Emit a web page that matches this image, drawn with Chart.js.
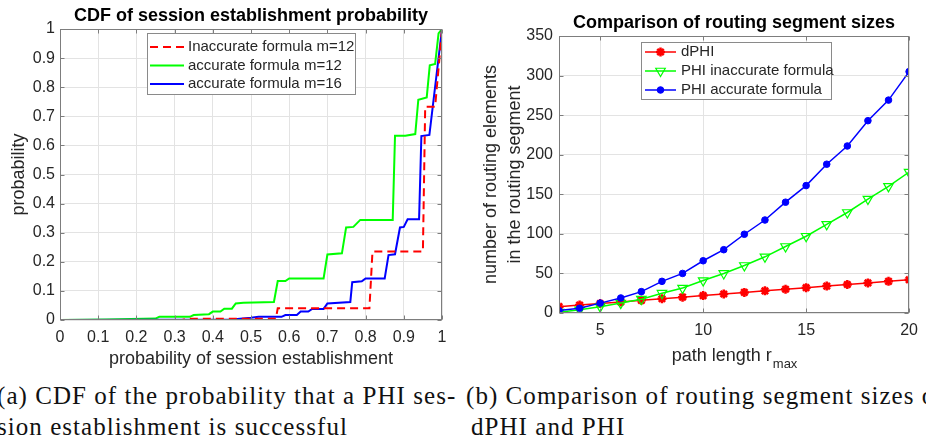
<!DOCTYPE html>
<html>
<head>
<meta charset="utf-8">
<script src="https://cdn.jsdelivr.net/npm/chart.js@4.4.1/dist/chart.umd.min.js"></script>
<style>
  body { margin: 0; background: #fff; width: 926px; height: 441px; overflow: hidden; position: relative; }
  .wrap { position: absolute; top: 0; width: 463px; height: 370px; }
  .cap { position: absolute; font-family: "Liberation Serif", serif; font-size: 25px; letter-spacing: 1.05px; line-height: 31px; color: #111; white-space: nowrap; }
</style>
</head>
<body>
<div class="wrap" style="left:0"><canvas id="cdfChart" width="463" height="370"></canvas></div>
<div class="wrap" style="left:463px"><canvas id="sizeChart" width="463" height="370"></canvas></div>
<div class="cap" style="left:-3px; top:380px">(a) CDF of the probability that a PHI ses-<br>sion establishment is successful</div>
<div class="cap" style="left:466px; top:380px">(b) Comparison of routing segment sizes of<br><span style="padding-left:5px">dPHI and PHI</span></div>

<script>
// (a) CDF curves, x = probability of session establishment, y = probability
const inaccX = [0, 0.32, 0.33, 0.565, 0.57, 0.81, 0.818, 0.95, 0.956, 0.982, 0.992, 1.0];
const inaccY = [0, 0, 0.004, 0.004, 0.040, 0.040, 0.235, 0.235, 0.733, 0.733, 0.88, 1.0];

const acc12X = [0, 0.12, 0.25, 0.26, 0.34, 0.35, 0.39, 0.40, 0.42, 0.43, 0.45, 0.46, 0.48, 0.56, 0.57, 0.59, 0.60, 0.69, 0.70, 0.738, 0.749, 0.768, 0.786, 0.871, 0.877, 0.904, 0.93, 0.938, 0.96, 0.968, 0.982, 0.991, 1.0];
const acc12Y = [0, 0.002, 0.005, 0.011, 0.011, 0.017, 0.020, 0.029, 0.029, 0.039, 0.039, 0.057, 0.059, 0.062, 0.134, 0.134, 0.143, 0.143, 0.225, 0.229, 0.318, 0.320, 0.344, 0.344, 0.633, 0.633, 0.639, 0.757, 0.765, 0.875, 0.88, 0.985, 1.0];

const acc16X = [0, 0.45, 0.50, 0.52, 0.58, 0.59, 0.62, 0.63, 0.65, 0.66, 0.69, 0.70, 0.76, 0.765, 0.79, 0.80, 0.85, 0.86, 0.877, 0.89, 0.90, 0.91, 0.94, 0.946, 0.967, 1.0];
const acc16Y = [0, 0.002, 0.008, 0.011, 0.011, 0.017, 0.017, 0.029, 0.029, 0.038, 0.038, 0.057, 0.062, 0.130, 0.133, 0.143, 0.143, 0.223, 0.226, 0.318, 0.320, 0.346, 0.346, 0.632, 0.636, 1.0];

const cdfTicks = [0, 0.1, 0.2, 0.3, 0.4, 0.5, 0.6, 0.7, 0.8, 0.9, 1];

// (b) routing segment sizes
const pathLength = [3, 4, 5, 6, 7, 8, 9, 10, 11, 12, 13, 14, 15, 16, 17, 18, 19, 20];
const dphi = [8, 10, 12, 14, 16, 18, 20, 22, 24, 26, 28, 30, 32, 34, 36, 38, 40, 42];
const phiInaccurate = [1, 4, 8, 12.5, 17.5, 25, 31.5, 41, 50, 60, 71, 84, 97, 112, 127, 144, 160, 178];
const phiAccurate = [3, 6, 12.5, 19, 27, 40, 50, 66, 80, 99.5, 117.5, 140, 161, 188, 211, 243, 269, 305];
const sizeXTicks = [5, 10, 15, 20];
const sizeYTicks = [0, 50, 100, 150, 200, 250, 300, 350];

const pts = (xs, ys) => xs.map((x, i) => ({ x: x, y: ys[i] }));
const shortNum = v => String(Math.round(v * 10) / 10);

const FONT = '"Liberation Sans", Arial, sans-serif';
const TXT = '#262626';

// axes box, inward tick marks and a MATLAB style legend box
const matlabAxes = {
  id: 'matlabAxes',
  afterDraw(chart, args, opts) {
    const { ctx, chartArea: a, scales } = chart;
    const l = Math.round(a.left) + 0.5, r = Math.round(a.right) - 0.5;
    const t = Math.round(a.top) + 0.5, b = Math.round(a.bottom) - 0.5;
    ctx.save();
    ctx.strokeStyle = '#7d7d7d';
    ctx.lineWidth = 1;
    ctx.setLineDash([]);
    ctx.strokeRect(l, t, r - l, b - t);
    ctx.beginPath();
    scales.x.ticks.forEach(tk => {
      const px = Math.round(scales.x.getPixelForValue(tk.value)) + 0.5;
      ctx.moveTo(px, b); ctx.lineTo(px, b - 4);
      ctx.moveTo(px, t); ctx.lineTo(px, t + 4);
    });
    scales.y.ticks.forEach(tk => {
      const py = Math.round(scales.y.getPixelForValue(tk.value)) + 0.5;
      ctx.moveTo(l, py); ctx.lineTo(l + 4, py);
      ctx.moveTo(r, py); ctx.lineTo(r - 4, py);
    });
    ctx.stroke();

    const lg = opts.legend;
    if (lg) {
      ctx.fillStyle = '#fff';
      ctx.fillRect(lg.x, lg.y, lg.w, lg.h);
      ctx.strokeStyle = '#8a8a8a';
      ctx.strokeRect(lg.x + 0.5, lg.y + 0.5, lg.w, lg.h);
      ctx.font = lg.size + 'px ' + FONT;
      ctx.textBaseline = 'middle';
      chart.data.datasets.forEach((ds, i) => {
        const y = lg.rows[i];
        ctx.strokeStyle = ds.borderColor;
        ctx.lineWidth = ds.borderWidth;
        ctx.setLineDash(ds.borderDash || []);
        ctx.beginPath();
        ctx.moveTo(lg.s1, y); ctx.lineTo(lg.s2, y);
        ctx.stroke();
        ctx.setLineDash([]);
        if (ds.pointRadius > 0 && Chart.helpers && Chart.helpers.drawPoint) {
          ctx.fillStyle = ds.pointBackgroundColor;
          ctx.strokeStyle = ds.borderColor;
          ctx.lineWidth = ds.pointBorderWidth;
          Chart.helpers.drawPoint(ctx, {
            pointStyle: ds.pointStyle, radius: ds.pointRadius,
            rotation: ds.pointRotation || 0, borderWidth: ds.pointBorderWidth
          }, (lg.s1 + lg.s2) / 2, y);
        }
        ctx.fillStyle = TXT;
        ctx.fillText(ds.label, lg.tx, y);
      });
    }

    if (opts.xLabel) {
      const xl = opts.xLabel;
      ctx.fillStyle = TXT;
      ctx.textBaseline = 'alphabetic';
      ctx.font = '18px ' + FONT;
      const w1 = ctx.measureText(xl.main).width;
      ctx.font = '13px ' + FONT;
      const w2 = ctx.measureText(xl.sub).width;
      const x0 = (a.left + a.right) / 2 - (w1 + w2) / 2;
      ctx.font = '18px ' + FONT;
      ctx.fillText(xl.main, x0, xl.y);
      ctx.font = '13px ' + FONT;
      ctx.fillText(xl.sub, x0 + w1 + 1, xl.y + 7);
    }
    ctx.restore();
  }
};

const gridColor = '#e3e3e3';
const tickFont = { family: FONT, size: 16 };
const labelFont = { family: FONT, size: 18 };

new Chart(document.getElementById('cdfChart'), {
  type: 'line',
  data: {
    datasets: [
      { label: 'Inaccurate formula m=12', data: pts(inaccX, inaccY), borderColor: '#ff0000', borderDash: [8, 5], borderWidth: 2, pointRadius: 0, order: 0 },
      { label: 'accurate formula m=12', data: pts(acc12X, acc12Y), borderColor: '#00ff00', borderWidth: 2, pointRadius: 0, order: 2 },
      { label: 'accurate formula m=16', data: pts(acc16X, acc16Y), borderColor: '#0000ff', borderWidth: 2, pointRadius: 0, order: 1 }
    ]
  },
  options: {
    responsive: false,
    animation: false,
    events: [],
    layout: { padding: { left: 0, right: 21, top: 0, bottom: 0 } },
    plugins: {
      legend: { display: false },
      tooltip: { enabled: false },
      title: {
        display: true, fullSize: false,
        text: 'CDF of session establishment probability',
        color: '#000', font: { family: FONT, size: 18, weight: 'bold' },
        padding: { top: 5, bottom: 2.4 }
      },
      matlabAxes: { legend: { x: 147, y: 33, w: 208, h: 61, rows: [47, 65.5, 84], s1: 150, s2: 184, tx: 188, size: 15 } }
    },
    scales: {
      x: {
        type: 'linear', min: 0, max: 1,
        afterBuildTicks: s => { s.ticks = cdfTicks.map(v => ({ value: v })); },
        afterFit: s => { s.height = 50; },
        grid: { color: gridColor, drawTicks: false },
        border: { display: false },
        ticks: { color: TXT, font: tickFont, padding: 8, maxRotation: 0, callback: shortNum },
        title: { display: true, text: 'probability of session establishment', color: TXT, font: labelFont, padding: { top: 0, bottom: 0 } }
      },
      y: {
        min: 0, max: 1,
        afterBuildTicks: s => { s.ticks = cdfTicks.map(v => ({ value: v })); },
        afterFit: s => { s.width = 60; },
        grid: { color: gridColor, drawTicks: false },
        border: { display: false },
        ticks: { color: TXT, font: tickFont, padding: 5, callback: shortNum },
        title: { display: true, text: 'probability', color: TXT, font: labelFont, padding: { top: 8, bottom: 0 } }
      }
    }
  },
  plugins: [matlabAxes]
});

new Chart(document.getElementById('sizeChart'), {
  type: 'line',
  data: {
    datasets: [
      { label: 'dPHI', data: pts(pathLength, dphi), borderColor: '#ff0000', backgroundColor: '#ff0000', borderWidth: 1.5,
        pointStyle: 'star', pointRadius: 4.5, pointBorderWidth: 2.5, pointBackgroundColor: '#ff0000', order: 2 },
      { label: 'PHI inaccurate formula', data: pts(pathLength, phiInaccurate), borderColor: '#00ff00', borderWidth: 1.5,
        pointStyle: 'triangle', pointRotation: 180, pointRadius: 5.5, pointBorderWidth: 1.2, pointBackgroundColor: 'rgba(0,0,0,0)', order: 1 },
      { label: 'PHI accurate formula', data: pts(pathLength, phiAccurate), borderColor: '#0000ff', borderWidth: 1.5,
        pointStyle: 'circle', pointRadius: 3.3, pointBorderWidth: 1, pointBackgroundColor: '#0000ff', order: 0 }
    ]
  },
  options: {
    responsive: false,
    animation: false,
    events: [],
    layout: { padding: { left: 0, right: 13, top: 0, bottom: 0 } },
    plugins: {
      legend: { display: false },
      tooltip: { enabled: false },
      title: {
        display: true, fullSize: false,
        text: 'Comparison of routing segment sizes',
        color: '#000', font: { family: FONT, size: 18, weight: 'bold' },
        padding: { top: 12.7, bottom: 1.7 }
      },
      matlabAxes: {
        legend: { x: 178, y: 42, w: 190, h: 57, rows: [52, 71, 90], s1: 182, s2: 213, tx: 218, size: 15 },
        xLabel: { main: 'path length r', sub: 'max', y: 361 }
      }
    },
    scales: {
      x: {
        type: 'linear', min: 3, max: 20,
        afterBuildTicks: s => { s.ticks = sizeXTicks.map(v => ({ value: v })); },
        afterFit: s => { s.height = 57; },
        grid: { color: gridColor, drawTicks: false },
        border: { display: false },
        ticks: { color: TXT, font: tickFont, padding: 8, maxRotation: 0 }
      },
      y: {
        min: 0, max: 350,
        afterBuildTicks: s => { s.ticks = sizeYTicks.map(v => ({ value: v })); },
        afterFit: s => { s.width = 96; },
        grid: { color: gridColor, drawTicks: false },
        border: { display: false },
        ticks: { color: TXT, font: tickFont, padding: 6 },
        title: { display: true, text: ['number of routing elements', 'in the routing segment'], color: TXT,
                 font: { family: FONT, size: 18, lineHeight: 1.333 }, padding: { top: 16, bottom: 0 } }
      }
    }
  },
  plugins: [matlabAxes]
});
</script>
</body>
</html>
